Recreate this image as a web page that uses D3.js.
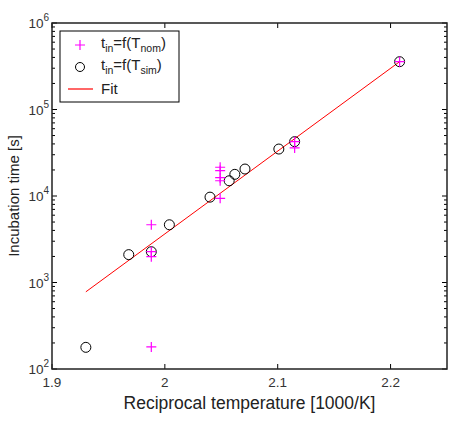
<!DOCTYPE html>
<meta charset="utf-8">
<head>
  <script src="https://cdnjs.cloudflare.com/ajax/libs/d3/7.8.5/d3.min.js"></script>
  <style>
    body { margin: 0; background: #fff; }
    svg { display: block; font-family: "Liberation Sans", Arial, sans-serif; }
  </style>
</head>
<body>
<div id="chart"></div>
<script>

// measured points, t_in = f(T_nom)
var nomX = [1.988, 1.988, 1.988, 1.988, 2.049, 2.049, 2.049, 2.049, 2.049, 2.115, 2.115, 2.208];
var nomY = [180, 1990, 2270, 4650, 9400, 15000, 16300, 19700, 21500, 36000, 42500, 357000];

// t_in = f(T_sim)
var simX = [1.93, 1.968, 1.988, 2.004, 2.040, 2.057, 2.062, 2.071, 2.101, 2.115, 2.208];
var simY = [178, 2100, 2270, 4650, 9700, 15000, 17800, 20500, 34900, 42500, 357000];

// fit line end points
var fitX = [1.93, 2.208];
var fitY = [780, 357000];

var xTicks = [1.9, 2, 2.1, 2.2];
var yTicks = [1e2, 1e3, 1e4, 1e5, 1e6];

var width = 453, height = 421;
var margin = { top: 23, right: 6, bottom: 52, left: 52 };
var w = width - margin.left - margin.right,
    h = height - margin.top - margin.bottom;

var svg = d3.select("#chart").append("svg")
  .attr("width", width)
  .attr("height", height);

var g = svg.append("g")
  .attr("transform", "translate(" + margin.left + "," + margin.top + ")");

var x = d3.scaleLinear().domain([1.9, 2.25]).range([0, w]);
var y = d3.scaleLog().domain([1e2, 1e6]).range([h, 0]);

// minor ticks on log axis
var minor = [];
for (var e = 2; e < 6; e++) {
  for (var m = 2; m < 10; m++) minor.push(m * Math.pow(10, e));
}

// ticks (inward, both sides)
xTicks.forEach(function (v) {
  g.append("line").attr("x1", x(v)).attr("x2", x(v)).attr("y1", h).attr("y2", h - 5)
    .attr("stroke", "#000");
  g.append("line").attr("x1", x(v)).attr("x2", x(v)).attr("y1", 0).attr("y2", 5)
    .attr("stroke", "#000");
});
yTicks.forEach(function (v) {
  g.append("line").attr("x1", 0).attr("x2", 5).attr("y1", y(v)).attr("y2", y(v)).attr("stroke", "#000");
  g.append("line").attr("x1", w).attr("x2", w - 5).attr("y1", y(v)).attr("y2", y(v)).attr("stroke", "#000");
});
minor.forEach(function (v) {
  g.append("line").attr("x1", 0).attr("x2", 3).attr("y1", y(v)).attr("y2", y(v)).attr("stroke", "#000");
  g.append("line").attr("x1", w).attr("x2", w - 3).attr("y1", y(v)).attr("y2", y(v)).attr("stroke", "#000");
});

// frame
g.append("rect")
  .attr("width", w).attr("height", h)
  .attr("fill", "none").attr("stroke", "#222").attr("stroke-width", 1.5);

// tick labels
g.selectAll(".xl").data(xTicks).enter().append("text")
  .attr("x", function (d) { return x(d); })
  .attr("y", h + 18)
  .attr("text-anchor", "middle")
  .attr("font-size", 13.5)
  .attr("fill", "#333")
  .text(function (d) { return d3.format("")(d); });

yTicks.forEach(function (v) {
  var t = g.append("text")
    .attr("x", -3)
    .attr("y", y(v) + 5)
    .attr("text-anchor", "end")
    .attr("font-size", 13.5)
    .attr("fill", "#333");
  t.append("tspan").text("10");
  t.append("tspan").attr("dy", -7).attr("font-size", 10).text(Math.round(Math.log10(v)));
});

// axis titles
svg.append("text")
  .attr("x", margin.left + w / 2)
  .attr("y", 409)
  .attr("text-anchor", "middle")
  .attr("font-size", 17.5)
  .attr("fill", "#222")
  .text("Reciprocal temperature [1000/K]");

svg.append("text")
  .attr("transform", "translate(19," + (margin.top + h / 2) + ") rotate(-90)")
  .attr("text-anchor", "middle")
  .attr("font-size", 15)
  .attr("fill", "#222")
  .text("Incubation time [s]");

// fit line
g.append("path")
  .datum(d3.zip(fitX, fitY))
  .attr("d", d3.line().x(function (d) { return x(d[0]); }).y(function (d) { return y(d[1]); }))
  .attr("fill", "none")
  .attr("stroke", "#ff0000")
  .attr("stroke-width", 1);

// circles
g.selectAll(".sim").data(d3.zip(simX, simY)).enter().append("circle")
  .attr("cx", function (d) { return x(d[0]); })
  .attr("cy", function (d) { return y(d[1]); })
  .attr("r", 5)
  .attr("fill", "none")
  .attr("stroke", "#000")
  .attr("stroke-width", 1);

// plus markers
var plus = "M-5,0H5M0,-5V5";
g.selectAll(".nom").data(d3.zip(nomX, nomY)).enter().append("path")
  .attr("transform", function (d) { return "translate(" + x(d[0]) + "," + y(d[1]) + ")"; })
  .attr("d", plus)
  .attr("stroke", "#ff00ff")
  .attr("stroke-width", 1.2);

// legend
var lg = svg.append("g").attr("transform", "translate(60,31)");
lg.append("rect").attr("width", 119).attr("height", 71)
  .attr("fill", "#fff").attr("stroke", "#000").attr("stroke-width", 1);

lg.append("path").attr("transform", "translate(20,14)").attr("d", plus)
  .attr("stroke", "#ff00ff").attr("stroke-width", 1.2);
lg.append("circle").attr("cx", 20).attr("cy", 36).attr("r", 4.5)
  .attr("fill", "none").attr("stroke", "#000");
lg.append("line").attr("x1", 8).attr("x2", 33).attr("y1", 58).attr("y2", 58)
  .attr("stroke", "#ff0000").attr("stroke-width", 1.2);

function legText(yy, sub) {
  var t = lg.append("text").attr("x", 41).attr("y", yy).attr("font-size", 15).attr("fill", "#222");
  t.append("tspan").text("t");
  t.append("tspan").attr("dy", 4).attr("font-size", 10.5).text("in");
  t.append("tspan").attr("dy", -4).text("=f(T");
  t.append("tspan").attr("dy", 4).attr("font-size", 10.5).text(sub);
  t.append("tspan").attr("dy", -4).text(")");
}
legText(17, "nom");
legText(39, "sim");
lg.append("text").attr("x", 41).attr("y", 63).attr("font-size", 15).attr("fill", "#222").text("Fit");

</script>
</body>
